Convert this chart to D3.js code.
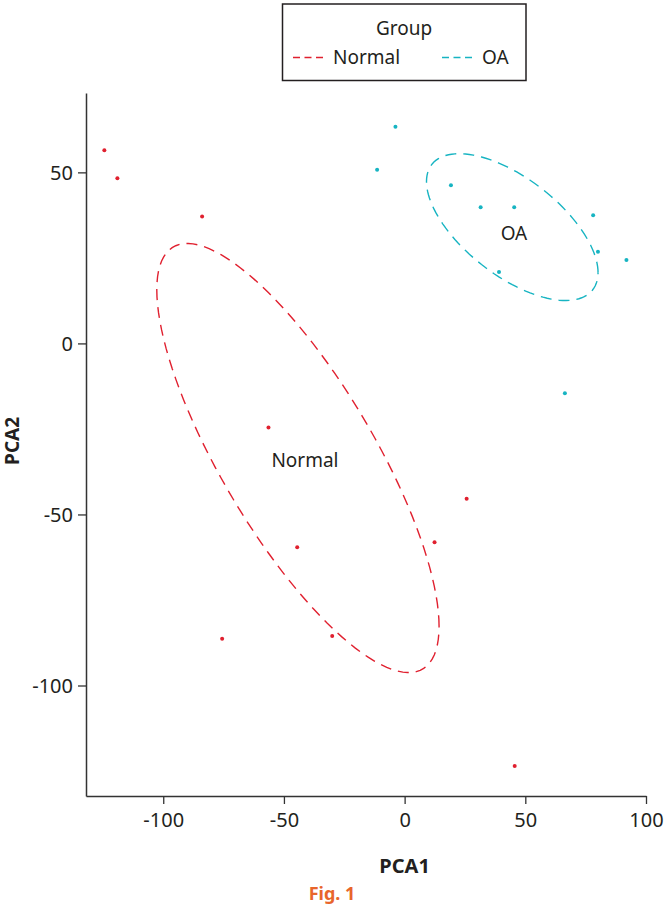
<!doctype html>
<html lang="en">
<head>
  <meta charset="utf-8">
  <title>PCA plot</title>
  <style>
   body { margin: 0; background: #fff; }
   text { font-family: "Noto Sans", "Open Sans", sans-serif; fill: #231f20; }
  </style>
</head>
<body>
<svg id="chart" width="666" height="910" xmlns="http://www.w3.org/2000/svg"></svg>
<script src="https://d3js.org/d3.v7.min.js"></script>
<script>
 // group names and colours
 var groups = ["Normal", "OA"];
 var groupColors = ["#e0202f", "#17b4c2"];

 // points (PCA1, PCA2)
 var normalPCA1 = [-124.4, -119.0, -83.9, -56.4, 25.7, 12.4, -44.5, -75.6, -30.0, 45.6];
 var normalPCA2 = [56.5, 48.3, 37.1, -24.6, -45.4, -58.1, -59.6, -86.3, -85.5, -123.5];
 var oaPCA1 = [-3.8, -11.4, 19.2, 31.5, 45.4, 78.1, 80.1, 91.9, 39.1, 66.4];
 var oaPCA2 = [63.3, 50.8, 46.2, 39.8, 39.8, 37.5, 26.8, 24.4, 20.9, -14.6];

 // group label positions (PCA1, PCA2)
 var labelPCA1 = [-41.3, 45.3];
 var labelPCA2 = [-34.1, 32.3];

 // ellipses: centre and shape (sxx, sxy, syy), in data units
 var ellipseCenter = [[-44.2, -33.5], [44.6, 34.0]];
 var ellipseShape = [[3419, -2876, 3934], [1263, -473, 460.5]];

 var xTicks = [-100, -50, 0, 50, 100];
 var yTicks = [-100, -50, 0, 50];

 var svg = d3.select("#chart");
 var x = d3.scaleLinear().domain([-132, 100]).range([86, 646]);
 var y = d3.scaleLinear().domain([-132.3, 73.2]).range([796, 93]);
 var fmt = function(d) { return String(d); };   // plain hyphen minus

 // axes (classic theme: lines only)
 var xAxis = svg.append("g")
     .attr("transform", "translate(0,796)")
     .call(d3.axisBottom(x).tickValues(xTicks).tickFormat(fmt).tickSize(8).tickPadding(6).tickSizeOuter(0));
 var yAxis = svg.append("g")
     .attr("transform", "translate(86,0)")
     .call(d3.axisLeft(y).tickValues(yTicks).tickFormat(fmt).tickSize(8).tickPadding(5).tickSizeOuter(0));
 [xAxis, yAxis].forEach(function(a) {
     a.select(".domain").attr("stroke", "#333").attr("stroke-width", 1.5);
     a.selectAll(".tick line").attr("stroke", "#333").attr("stroke-width", 1.3);
     a.selectAll(".tick text")
      .attr("fill", "#231f20")
      .style("font-family", '"Noto Sans", sans-serif')
      .style("font-size", "20px");
 });
 xAxis.selectAll(".tick text").attr("dy", "0.85em");
 yAxis.selectAll(".tick text").attr("dy", "0.35em");

 svg.append("text")
    .attr("x", x(0)).attr("y", 873)
    .attr("text-anchor", "middle")
    .style("font-size", "20px").style("font-weight", "bold")
    .text("PCA1");
 svg.append("text")
    .attr("transform", "translate(19," + y(-28.5) + ") rotate(-90)")
    .attr("text-anchor", "middle")
    .style("font-size", "19px").style("font-weight", "bold")
    .text("PCA2");

 // ellipses
 var line = d3.line().x(function(d) { return x(d[0]); }).y(function(d) { return y(d[1]); });
 ellipseCenter.forEach(function(c, i) {
     var s = ellipseShape[i];
     var l11 = Math.sqrt(s[0]), l21 = s[1] / l11, l22 = Math.sqrt(s[2] - l21 * l21);
     var pts = d3.range(0, 361, 3).map(function(deg) {
         var t = deg * Math.PI / 180;
         return [c[0] + l11 * Math.cos(t), c[1] + l21 * Math.cos(t) + l22 * Math.sin(t)];
     });
     svg.append("path")
        .attr("d", line(pts))
        .attr("fill", "none")
        .attr("stroke", groupColors[i])
        .attr("stroke-width", 1.4)
        .attr("stroke-dasharray", "11,7");
 });

 // points
 var series = [[normalPCA1, normalPCA2], [oaPCA1, oaPCA2]];
 series.forEach(function(sr, i) {
     svg.append("g").selectAll("circle")
        .data(d3.zip(sr[0], sr[1]))
        .enter().append("circle")
        .attr("cx", function(d) { return x(d[0]); })
        .attr("cy", function(d) { return y(d[1]); })
        .attr("r", 2)
        .attr("fill", groupColors[i]);
     svg.append("text")
        .attr("x", x(labelPCA1[i]))
        .attr("y", y(labelPCA2[i]))
        .attr("dy", "0.35em")
        .attr("text-anchor", "middle")
        .style("font-size", "19px")
        .text(groups[i]);
 });

 // legend
 var lg = svg.append("g");
 lg.append("rect")
   .attr("x", 282.5).attr("y", 4).attr("width", 243.5).attr("height", 76.5)
   .attr("fill", "#fff").attr("stroke", "#231f20").attr("stroke-width", 1.5);
 lg.append("text")
   .attr("x", 404).attr("y", 35).attr("text-anchor", "middle")
   .style("font-size", "19px").text("Group");
 var legendX = [293, 442];
 groups.forEach(function(g, i) {
     lg.append("line")
       .attr("x1", legendX[i]).attr("x2", legendX[i] + 32)
       .attr("y1", 57.5).attr("y2", 57.5)
       .attr("stroke", groupColors[i]).attr("stroke-width", 1.4)
       .attr("stroke-dasharray", "7,4.5");
     lg.append("text")
       .attr("x", legendX[i] + 40).attr("y", 64)
       .style("font-size", "19px").text(g);
 });

 svg.append("text")
    .attr("x", 332).attr("y", 900).attr("text-anchor", "middle")
    .style("font-size", "18px").style("font-weight", "bold")
    .style("fill", "#e8652b")
    .text("Fig. 1");
</script>
</body>
</html>
